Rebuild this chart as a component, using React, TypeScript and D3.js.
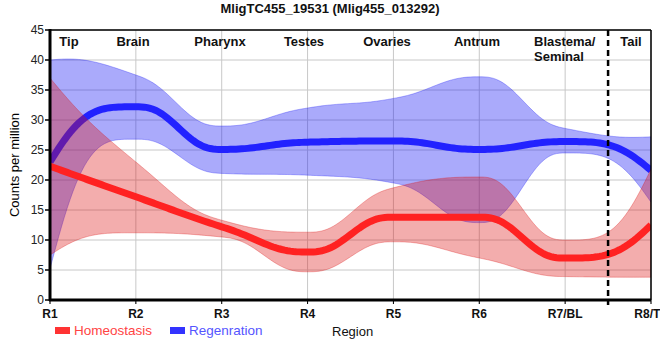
import React from "react";
import * as d3 from "d3";

const W = 660;
const H = 360;
const margin = { top: 30, right: 9, bottom: 60, left: 50 };

const regions = ["R1", "R2", "R3", "R4", "R5", "R6", "R7/BL", "R8/TL"];
const tissues = ["Tip", "Brain", "Pharynx", "Testes", "Ovaries", "Antrum", "Blastema/|Seminal", "Tail"];
const tissueX = [69, 133, 220, 304, 387, 477, 534, 631];
const yTicks = [0, 5, 10, 15, 20, 25, 30, 35, 40, 45];

const homeoMean = [22.3, 17.2, 12.2, 8.0, 13.8, 13.8, 7.0, 12.5];
const homeoHigh = [37.0, 23.0, 13.3, 11.3, 18.7, 20.5, 10.0, 21.8];
const homeoLow = [7.5, 11.2, 10.5, 4.7, 9.7, 7.0, 3.9, 3.8];

const regenMean = [23.0, 32.2, 25.1, 26.3, 26.5, 25.1, 26.4, 21.6];
const regenHigh = [40.0, 37.5, 29.0, 32.0, 33.6, 37.2, 28.6, 27.2];
const regenLow = [5.2, 26.8, 21.1, 20.8, 19.5, 12.9, 24.5, 16.3];

const font = "'Liberation Sans', Arial, sans-serif";

// monotone tangents, quintic hermite segments (flatter around the extremes)
function curveSmooth(context) {
  let xs = [];
  let ys = [];
  let line = NaN;
  return {
    areaStart() {
      line = 0;
    },
    areaEnd() {
      line = NaN;
    },
    lineStart() {
      xs = [];
      ys = [];
    },
    point(x, y) {
      xs.push(+x);
      ys.push(+y);
    },
    lineEnd() {
      const n = xs.length;
      if (n) {
        if (line) context.lineTo(xs[0], ys[0]);
        else context.moveTo(xs[0], ys[0]);
        const s = [];
        for (let i = 0; i < n - 1; i++) s[i] = (ys[i + 1] - ys[i]) / (xs[i + 1] - xs[i]);
        const m = new Array(n).fill(0);
        for (let i = 1; i < n - 1; i++) {
          const h0 = xs[i] - xs[i - 1];
          const h1 = xs[i + 1] - xs[i];
          const p = (s[i - 1] * h1 + s[i] * h0) / (h0 + h1);
          m[i] =
            (Math.sign(s[i - 1]) + Math.sign(s[i])) *
            Math.min(Math.abs(s[i - 1]), Math.abs(s[i]), 0.5 * Math.abs(p));
        }
        if (n > 1) {
          // steeper ends, still exact for straight runs
          m[0] = s[0] + 1.5 * (s[0] - m[1]);
          m[n - 1] = s[n - 2] + 1.5 * (s[n - 2] - m[n - 2]);
        }
        for (let i = 0; i < n - 1; i++) {
          const h = xs[i + 1] - xs[i];
          const steps = 30;
          for (let k = 1; k <= steps; k++) {
            const t = k / steps;
            const t3 = t * t * t;
            const t4 = t3 * t;
            const t5 = t4 * t;
            const h00 = 1 - 10 * t3 + 15 * t4 - 6 * t5;
            const h10 = t - 6 * t3 + 8 * t4 - 3 * t5;
            const h01 = 10 * t3 - 15 * t4 + 6 * t5;
            const h11 = -4 * t3 + 7 * t4 - 3 * t5;
            const yy = h00 * ys[i] + h10 * h * m[i] + h01 * ys[i + 1] + h11 * h * m[i + 1];
            context.lineTo(xs[i] + t * h, yy);
          }
        }
      }
      if (line || (line !== 0 && n === 1)) context.closePath();
      line = 1 - line;
    },
  };
}

export default function App() {
  const x = d3
    .scalePoint()
    .domain(regions)
    .range([margin.left, W - margin.right]);
  const y = d3
    .scaleLinear()
    .domain([0, 45])
    .range([H - margin.bottom, margin.top]);

  const x0 = margin.left;
  const x1 = W - margin.right;
  const y0 = H - margin.bottom;
  const y1 = margin.top;

  const band = (hi, lo) =>
    d3
      .area()
      .x((d, i) => x(regions[i]))
      .y0((d, i) => y(lo[i]))
      .y1((d, i) => y(hi[i]))
      .curve(curveSmooth)(hi);

  const line = (vals) =>
    d3
      .line()
      .x((d, i) => x(regions[i]))
      .y((d) => y(d))
      .curve(curveSmooth)(vals);

  const dashX = (x("R7/BL") + x("R8/TL")) / 2;

  return (
    <svg
      width={W}
      height={H}
      style={{ position: "absolute", left: 0, top: 0, background: "#fff" }}
      fontFamily={font}
    >
      <defs>
        <clipPath id="plot">
          <rect x={x0} y={y1} width={x1 - x0} height={y0 - y1} />
        </clipPath>
      </defs>

      {/* grid */}
      {yTicks.map((t) => (
        <line key={"gy" + t} x1={x0} x2={x1} y1={y(t)} y2={y(t)} stroke="#c8c8c8" />
      ))}
      {regions.map((r) => (
        <line key={"gx" + r} x1={x(r)} x2={x(r)} y1={y1} y2={y0 + 4} stroke="#c8c8c8" />
      ))}

      <g clipPath="url(#plot)">
        <path d={band(regenHigh, regenLow)} fill="rgba(20,20,245,0.36)" stroke="rgba(20,20,245,0.3)" />
        <path d={line(regenMean)} fill="none" stroke="#2222ff" strokeWidth={7} />
        <path d={band(homeoHigh, homeoLow)} fill="rgba(220,15,15,0.34)" stroke="rgba(220,15,15,0.3)" />
        <path d={line(homeoMean)} fill="none" stroke="#ff2222" strokeWidth={7} />
      </g>

      {/* frame */}
      <line x1={x0} x2={x1} y1={y1} y2={y1} stroke="#000" strokeWidth={1.5} />
      <line x1={x1} x2={x1} y1={y1} y2={y0} stroke="#000" strokeWidth={1.5} />
      <line x1={x0} x2={x0} y1={y1 - 1} y2={y0 + 1} stroke="#000" strokeWidth={3} />
      <line x1={x0 - 1} x2={x1} y1={y0} y2={y0} stroke="#000" strokeWidth={3} />

      <line
        x1={dashX}
        x2={dashX}
        y1={y1}
        y2={y0 + 5}
        stroke="#000"
        strokeWidth={2.5}
        strokeDasharray="6,4"
      />

      {/* y axis */}
      {yTicks.map((t) => (
        <g key={"yt" + t}>
          <line x1={x0 - 5} x2={x0} y1={y(t)} y2={y(t)} stroke="#000" strokeWidth={1.5} />
          <text x={x0 - 6} y={y(t) + 4} textAnchor="end" fontSize={12} fill="#222">
            {t}
          </text>
        </g>
      ))}
      <text
        transform={`translate(19,${(y0 + y1) / 2}) rotate(-90)`}
        textAnchor="middle"
        fontSize={13}
        fill="#000"
      >
        Counts per million
      </text>

      {/* x axis */}
      {regions.map((r) => (
        <g key={"xt" + r}>
          <line x1={x(r)} x2={x(r)} y1={y0} y2={y0 + 4} stroke="#000" strokeWidth={1} />
          <text x={x(r)} y={y0 + 18} textAnchor="middle" fontSize={12} fontWeight="bold" fill="#111">
            {r}
          </text>
        </g>
      ))}

      {/* tissue labels */}
      {tissues.map((t, i) => {
        const parts = t.split("|");
        return (
          <text
            key={t}
            x={tissueX[i]}
            y={y1 + 16}
            textAnchor={parts.length > 1 ? "start" : "middle"}
            fontSize={13}
            fontWeight="bold"
            fill="#111"
          >
            {parts.map((p, j) => (
              <tspan key={p} x={tissueX[i]} dy={j === 0 ? 0 : 15}>
                {p}
              </tspan>
            ))}
          </text>
        );
      })}

      {/* title */}
      <text x={330} y={13} textAnchor="middle" fontSize={13} fontWeight="bold" fill="#111">
        MligTC455_19531 (Mlig455_013292)
      </text>

      {/* legend */}
      <rect x={55} y={327} width={15} height={7} fill="#ff3333" />
      <text x={74} y={335} fontSize={13.5} fill="#ff4444">
        Homeostasis
      </text>
      <rect x={170} y={327} width={15} height={7} fill="#3333ff" />
      <text x={189} y={335} fontSize={13.5} fill="#5555ff">
        Regenration
      </text>
      <text x={332} y={336} fontSize={13} fill="#111">
        Region
      </text>
    </svg>
  );
}
